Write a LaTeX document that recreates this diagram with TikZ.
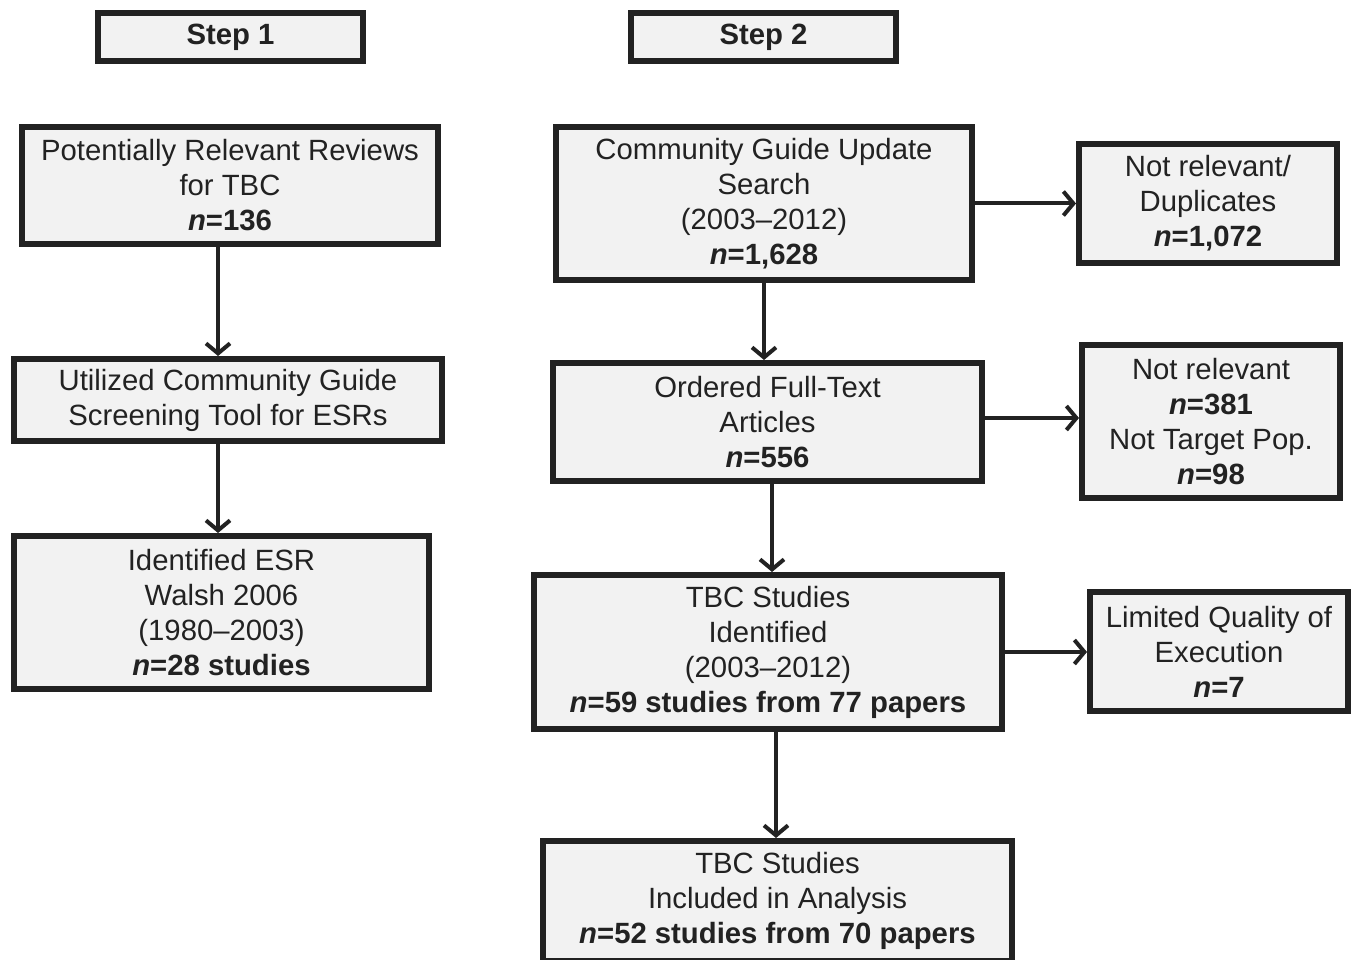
\documentclass[tikz,border=0pt]{standalone}
\usepackage{fontspec}
\setmainfont{Liberation Sans}
\usetikzlibrary{arrows.meta}
\definecolor{boxfill}{HTML}{F2F2F2}
\definecolor{ink}{HTML}{222222}
\begin{document}
\begin{tikzpicture}[x=1pt,y=-1pt,
  box/.style={draw=ink,fill=boxfill,line width=6pt,rectangle,inner sep=0pt,align=center,text=ink,
    font=\fontsize{29.3}{35}\selectfont},
  arr/.style={draw=ink,line width=4pt,-{Straight Barb[length=10pt,width=24pt]}}]
\useasboundingbox (0,0) rectangle (1355,960);
\clip (0,0) rectangle (1355,960);
\node[box,minimum width=265pt,minimum height=48pt] (S1) at (230.5,37) {\textbf{Step 1}};
\node[box,minimum width=265pt,minimum height=48pt] (S2) at (763.5,37) {\textbf{Step 2}};
\node[box,minimum width=416pt,minimum height=117pt] (PR) at (230,185.5) {Potentially Relevant Reviews\\for TBC\\\textbf{\textit{n}=136}};
\node[box,minimum width=428pt,minimum height=82pt] (UC) at (228,400) {Utilized Community Guide\\Screening Tool for ESRs};
\node[box,minimum width=415pt,minimum height=153pt] (IE) at (221.5,612.5) {Identified ESR\\Walsh 2006\\(1980--2003)\\\textbf{\textit{n}=28 studies}};
\node[box,minimum width=416pt,minimum height=153pt] (CG) at (764,203.5) {Community Guide Update\\Search\\(2003--2012)\\\textbf{\textit{n}=1,628}};
\node[box,minimum width=258pt,minimum height=119pt] (ND) at (1208,203.5) {Not relevant/\\Duplicates\\\textbf{\textit{n}=1,072}};
\node[box,minimum width=429pt,minimum height=118pt] (OF) at (767.5,422) {Ordered Full-Text\\Articles\\\textbf{\textit{n}=556}};
\node[box,minimum width=258pt,minimum height=153pt] (NR) at (1211,421.5) {Not relevant\\\textbf{\textit{n}=381}\\Not Target Pop.\\\textbf{\textit{n}=98}};
\node[box,minimum width=468pt,minimum height=154pt] (TBC) at (768,652) {TBC Studies\\Identified\\(2003--2012)\\\textbf{\textit{n}=59 studies from 77 papers}};
\node[box,minimum width=258pt,minimum height=119pt] (LQ) at (1219,651.5) {Limited Quality of\\Execution\\\textbf{\textit{n}=7}};
\node[box,minimum width=469pt,minimum height=120pt] (TI) at (777.5,901) {TBC Studies\\Included in Analysis\\\textbf{\textit{n}=52 studies from 70 papers}};
\draw[arr] ([xshift=-12pt]PR.south) -- ([xshift=-12pt]PR.south |- UC.north);
\draw[arr] ([xshift=-10pt]UC.south) -- ([xshift=-10pt]UC.south |- IE.north);
\draw[arr] (CG.south) -- (CG.south |- OF.north);
\draw[arr] ([xshift=4.5pt]OF.south) -- ([xshift=4.5pt]OF.south |- TBC.north);
\draw[arr] ([xshift=8pt]TBC.south) -- ([xshift=8pt]TBC.south |- TI.north);
\draw[arr] (CG.east) -- (CG.east -| ND.west);
\draw[arr] ([yshift=4pt]OF.east) -- ([yshift=4pt]OF.east -| NR.west);
\draw[arr] (TBC.east) -- (TBC.east -| LQ.west);
\end{tikzpicture}
\end{document}
